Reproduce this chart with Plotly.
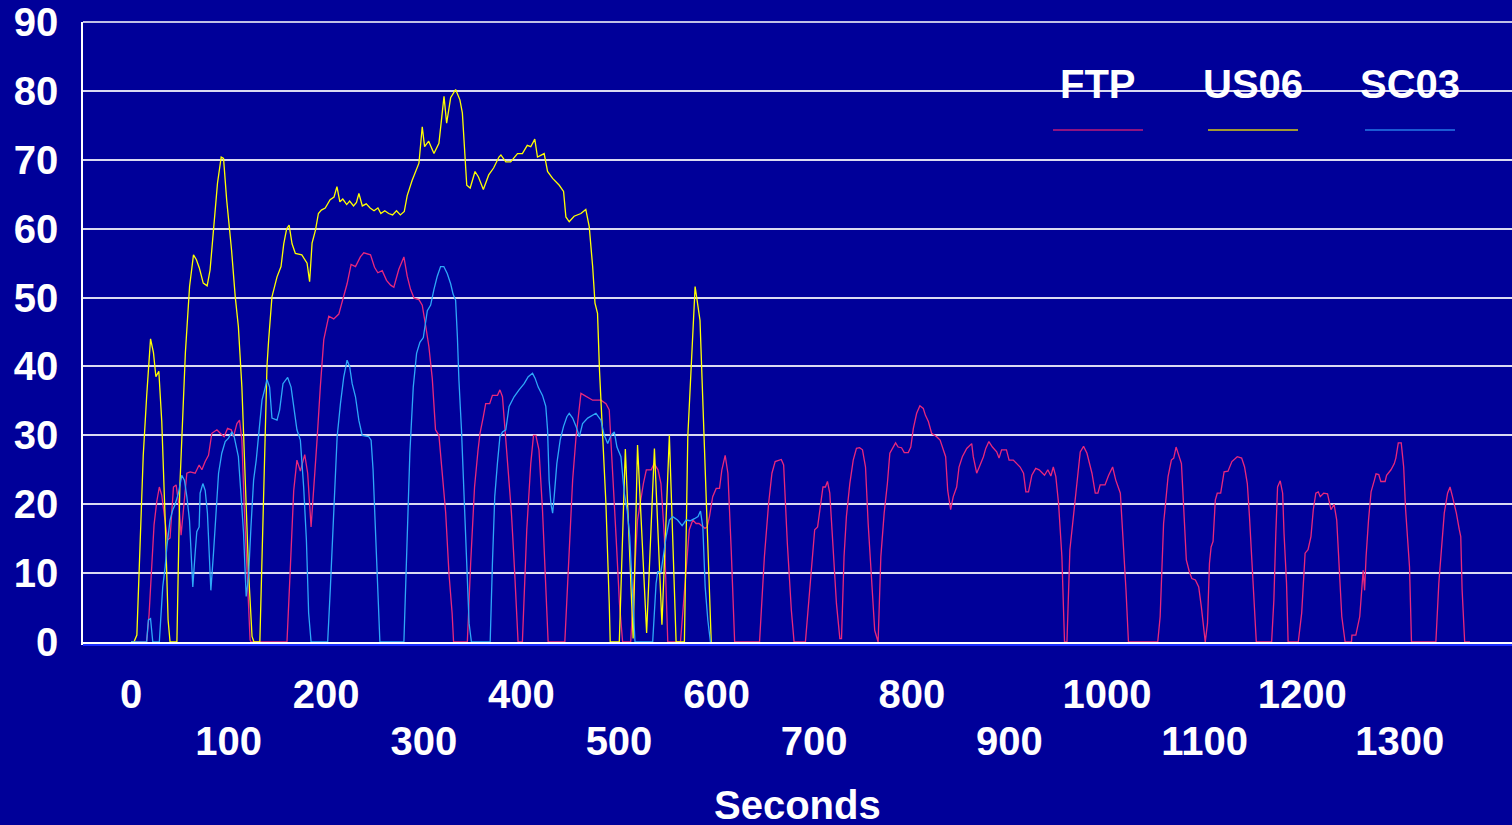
import plotly.graph_objects as go

# ---------------- data (seconds, speed) ----------------
ftp_t = [0, 16, 18.5, 21, 23.6, 26.4, 29, 31.5, 34.9, 37.4, 40, 43.5, 46.2, 49.3, 51.3, 53.7, 57.2, 60.6, 65.7, 69.8,
         72.6, 76, 79.4, 82.8, 88, 91.4, 95.4, 98.9, 102.7, 105, 108.5, 111.2, 113.6, 116, 118.8, 122, 123,
         159.8, 163, 166.7, 170, 173.5, 178, 181, 184.5, 187, 190.6, 194, 197.5, 202.6, 207.7, 212.9, 216.3, 221.4,
         225.5, 230, 235, 238.5, 245.4, 249.5, 252.9, 257.4, 261.8, 266, 269.3, 274.4, 279.6, 283, 286.4, 290, 295,
         298.4, 301.8, 305.2, 308.7, 312, 315.5, 319, 322.4, 325.8, 329, 330.5,
         344.6, 348, 352, 355.6, 357.6, 361, 363.4, 367.5, 370.3, 375.5, 378, 380.6, 382.3, 385.7, 389.8, 393, 396.6,
         401, 405.5, 409.6, 412.4, 414.8, 418, 421.6, 425, 427.4,
         444.5, 449, 452.5, 456, 458.3, 461, 464.5, 469, 473, 481.5, 486.7, 490, 493.5, 497, 500.5, 503.7,
         512, 515, 519, 525, 528, 533, 536, 540, 543, 546.5, 550,
         563, 568.8, 572, 575.6, 579, 582, 588, 590.3, 592.7, 596, 599.6, 603, 605.4, 608.8, 611.6, 615, 618.5,
         644, 649, 653.3, 656.7, 660, 666.3, 668.7, 672.5, 676.6, 679.4,
         691, 697, 700.5, 703.5, 706.4, 709, 711.5, 713.6, 716, 719.3, 722.8, 726.3, 728, 730.6, 733, 736.5, 740,
         743.3, 746.5, 749.5, 752.6, 755.3, 758.7, 762, 765.5, 768.3, 771.7, 775, 777.5, 781, 783.4, 786, 789.5,
         792.3, 796.4, 799, 801.6, 805, 808.3, 811.8, 814, 817, 820.3, 825.5, 829, 832.3, 834.7, 836.8, 839.8,
         842.5, 846, 848.4, 851.8, 856.3, 861.4, 863, 866.5, 870, 873.4, 875.8, 879, 882.6, 887, 889.4, 892, 897,
         899.7, 904, 907.6, 911, 914.5, 916.9, 919.6, 923, 927, 930.5, 934, 936, 939.4, 942.5, 945, 947.6, 950.4,
         953.8, 956.5, 959, 962, 965.8, 969.2, 972.6, 976, 979.5, 984.6, 988, 990.7, 993, 998, 1001.7, 1005.8,
         1009, 1013.7, 1017, 1019.5, 1022,
         1052, 1054.5, 1056.5, 1058, 1060, 1062.6, 1066, 1068.4, 1070.8, 1073.6, 1076.3, 1077.7, 1079.7, 1081.3,
         1084.4, 1087, 1090.6, 1094, 1096.7, 1099, 1100.7, 1103, 1105, 1106.7, 1108.7, 1111, 1113, 1116.5, 1120,
         1124, 1128, 1133.5, 1138, 1141, 1143.8, 1146, 1148.9, 1153,
         1168.7, 1171, 1173, 1174.8, 1177.5, 1180, 1181.4, 1184, 1185.6,
         1196, 1199.5, 1203, 1206, 1209, 1211.4, 1214, 1216.5, 1218.5, 1222, 1226, 1229.5, 1232.7, 1235.4, 1237.8,
         1240.6, 1244, 1250.5, 1251, 1255, 1259, 1262.5, 1264, 1265.5, 1268, 1270.6, 1274, 1275.7, 1278.5, 1280.6,
         1285, 1286.5, 1291, 1294.4, 1296, 1298.5, 1301.5, 1304, 1306, 1310, 1312,
         1337, 1340, 1343, 1345.6, 1349, 1351.5, 1354, 1358, 1361, 1362.5, 1363.9, 1366.5, 1372]
ftp_v = [0, 0, 4, 10.4, 17, 20.4, 22.5, 21.3, 17.2, 14.8, 15.1, 22.5, 22.8, 19.6, 15.5, 19.6, 24.5, 24.7, 24.5, 25.7,
         25.0, 26.2, 27.1, 30.3, 30.8, 30.3, 29.8, 31, 30.8, 29.8, 31.7, 32.2, 29.3, 19.6, 10, 0.3, 0,
         0, 10, 22, 26.4, 24.8, 27.2, 24.5, 16.7, 21.4, 29.3, 37.1, 43.9, 47.3, 46.9, 47.6, 49.4, 52,
         54.8, 54.5, 55.9, 56.5, 56.2, 54.4, 53.6, 53.9, 52.5, 51.8, 51.5, 54.1, 55.9, 53.1, 51.2, 49.9, 49.7,
         48.9, 46, 42.9, 38.2, 30.8, 30, 24, 18.8, 9.9, 4.2, 0,
         0, 11.4, 22.5, 27.9, 30.3, 32.7, 34.6, 34.6, 35.8, 35.8, 36.6, 35.6, 32.7, 25.9, 18.7, 10.4, 0,
         0, 16.3, 25.9, 30, 30, 27.9, 19.2, 9, 0,
         0, 13.8, 23.5, 29.8, 33.2, 36.1, 35.8, 35.4, 35.1, 35.1, 34.6, 33.7, 25, 15.3, 5.6, 0,
         0, 8, 17.7, 23, 25, 25, 25.9, 25, 23, 15.3, 0,
         0, 10.4, 16.3, 17.7, 17.2, 17.2, 16.5, 16.7, 18.2, 21.1, 22.3, 22.3, 25, 27.1, 24.5, 13.3, 0,
         0, 12.4, 20.1, 24.5, 26.2, 26.5, 25.7, 14.3, 4.6, 0,
         0, 10.9, 16.3, 16.7, 19.6, 22.5, 22.5, 23.3, 21.6, 13.4, 5.6, 0.5, 0.5, 12.4, 18.2, 23, 26.4,
         28.1, 28.2, 27.9, 25.4, 17.2, 9.5, 1.7, 0, 12.4, 18.7, 23, 27.4, 28.3, 28.9, 28.3, 28.2,
         27.5, 27.5, 28.3, 31, 33.2, 34.3, 33.9, 32.9, 32, 30.3, 29.8, 29.3, 27.9, 26.9, 22, 19.2,
         21.1, 22.5, 25.4, 26.9, 28.1, 28.8, 26.9, 24.5, 25.7, 26.9, 28.1, 29.1, 28.3, 27.6, 26.7, 27.9, 27.9,
         26.4, 26.4, 25.9, 25.4, 24.5, 21.8, 21.8, 24.2, 25.2, 25, 24.5, 24.2, 25, 24.1, 25.4, 24, 20.1,
         12.4, 0, 0, 13.4, 18.2, 23, 27.6, 28.4, 27.4, 24.5, 21.6, 21.6, 22.8, 22.8, 24.2, 25.4,
         23.5, 21.6, 14.3, 7.5, 0,
         0, 3.7, 10.9, 17.2, 20.1, 24, 26.4, 26.7, 28.3, 27.1, 25.9, 22, 17.2, 11.9,
         10.2, 9.2, 9, 8, 5.1, 2.2, 0, 2.7, 11.4, 13.8, 14.6, 20.6, 21.6, 21.6, 24.7,
         24.8, 26.2, 26.9, 26.7, 25.4, 23, 18.2, 10.9, 0,
         0, 6.1, 15.8, 22.5, 23.4, 21.6, 15.8, 8.5, 0,
         0, 4.2, 12.9, 13.4, 15.3, 19.2, 21.6, 21.8, 21.1, 21.6, 21.5, 19.2, 20, 17.7, 10.4,
         3.7, 0, 0, 1, 1, 3.7, 10.4, 7.5, 12.4, 17.7, 21.8, 23.5, 24.4, 24.3, 23.3,
         23.3, 24.2, 25, 25.9, 26.7, 28.9, 28.9, 25.4, 19.2, 10.9, 0,
         0, 8.5, 14.3, 18.7, 21.6, 22.5, 21.1, 18.7, 16.3, 15.3, 7.5, 0, 0]

us06_t = [0, 3, 6, 9, 12.5, 16, 20, 23, 25.5, 28.5, 31.5, 35, 38, 40, 47, 50, 53, 55.7, 60, 64, 67, 70, 74, 78, 81,
          84.5, 88.6, 92.4, 94.8, 98, 103, 106.8, 110, 113.6, 117, 120.5, 124, 126, 132, 136, 139.3, 141, 144.4,
          149.6, 153.7, 156.5, 159.5, 162, 165, 168.4, 175, 180.4, 183, 185.5, 189, 192, 195, 199, 204, 208, 211,
          214, 217, 221, 224, 228, 231, 233.5, 237, 241, 245, 249, 253, 256, 260, 264, 268, 272, 276, 280, 283,
          288, 295, 298.4, 300.8, 305, 310.4, 315.5, 320.7, 323.4, 327.5, 332.6, 337, 339.5, 341, 344, 347.5,
          352.5, 356, 361, 366.5, 371.5, 377, 379, 384, 389, 396, 401, 406, 409.6, 413.7, 416.5, 423.3, 426.8,
          432, 438.8, 443.2, 445.6, 449, 454, 461, 466, 469.5, 473, 475.4, 478, 480, 483.2, 486.6, 490, 491,
          500.3, 506.5, 514.5, 519, 528.3, 536.3, 544, 551.6, 558.5, 567, 570.5, 574, 578, 583, 586, 589.5, 593,
          594.5]
us06_v = [0, 0, 1, 13, 27, 35.6, 44, 42, 38.5, 39.3, 32, 17.7, 3.2, 0, 0, 22.5, 32, 42, 51.6, 56.2, 55.5, 54.3, 52.1,
          51.7, 54, 59.8, 66.6, 70.4, 70.2, 64.2, 56.9, 50.1, 45.8, 37, 24.5, 10, 0.8, 0, 0, 24.5, 40, 43.8, 50.1,
          53, 54.5, 57.8, 60, 60.5, 57.8, 56.4, 56.2, 55, 52.3, 57.9, 59.8, 62.2, 62.7, 63, 64.2, 64.6, 66.1,
          63.9, 64.3, 63.5, 64.0, 63.3, 63.8, 65.1, 63.3, 63.6, 63.0, 62.6, 63.0, 62.2, 62.6, 62.2, 62.0, 62.6,
          62.0, 62.5, 64.8, 67.0, 69.5, 74.8, 71.9, 72.7, 70.9, 72.4, 79.2, 75.3, 79, 80.2, 78.7, 76.8, 72.9,
          66.3, 65.9, 68.3, 67.5, 65.7, 67.8, 68.8, 70.4, 70.7, 69.7, 69.7, 70.9, 70.9, 72.1, 71.9, 73.0, 70.4,
          70.9, 68.3, 67.3, 66.3, 65.4, 61.7, 61.0, 61.8, 62.2, 62.8, 60.3, 54.5, 49.2, 47.7, 39.5, 29.8, 20.1,
          5.6, 0, 0, 28, 0.5, 28.6, 1.3, 28.1, 2.5, 30, 0, 0, 29.8, 39.5, 51.6, 46.7, 34.7, 20.2, 5.6, 0]

sc03_t = [0, 16, 17.8, 20, 22.3, 29, 32.5, 35, 36.7, 40, 42.8, 45, 48.6, 52, 54.7, 57.2, 59.9, 63.3, 65.7, 67.4,
          69.8, 70.8, 73.6, 76, 78.3, 81.8, 84.5, 87.3, 89.7, 93, 96.5, 99.9, 103.4, 105.7, 107.8, 110, 112.6,
          115.3, 118, 120.4, 122.9, 125.6, 128.3, 131.7, 134.2, 137.6, 139.3, 142, 144.4, 149.6, 152.3, 155.7,
          160.5, 164, 166.6, 170, 173.5, 176.9, 179.7, 182, 184.5, 201.5, 204.3, 207.7, 211.2, 214.6, 218, 221.4,
          224, 226.6, 230, 233.4, 236.9, 243.6, 246, 248, 250.5, 252.9, 255, 279.6, 282.3, 285.7, 289.2, 292.6,
          296, 299.5, 303.6, 307, 310.4, 313.8, 317.2, 320.5, 324, 327.5, 330, 332.6, 334.4, 336, 338.6, 341.2,
          344, 346.4, 348.8, 368, 370.3, 372.7, 375.4, 378, 380.6, 384, 387.4, 392.5, 397.6, 402.8, 407, 411.4,
          414, 417.2, 421.6, 425, 426.8, 428.4, 430.2, 432, 433.6, 436.3, 439.7, 443.2, 446.6, 449, 452.5, 456,
          459.4, 462.7, 467.9, 473, 476.4, 481.5, 484.9, 488.4, 491.8, 495.2, 497.9, 502, 505.4, 508.5, 511,
          513.5, 516.4, 534.5, 538, 539.7, 543, 545.9, 548.3, 551.6, 555, 560, 564.7, 568.8, 573, 577.3, 581,
          583.5, 585.9, 588.3, 591, 593.7]
sc03_v = [0, 0, 3.2, 3.4, 0, 0, 8, 10.9, 13.8, 17.7, 19.2, 19.9, 21.6, 24.2, 23.5, 21.1, 17.7, 8, 12.9, 16,
          16.7, 21.6, 23, 22, 18.7, 7.5, 12.9, 18.7, 24.5, 27.4, 29.1, 29.6, 30.5, 29.8, 28.1, 26.9, 21.6,
          15.8, 6.6, 9.5, 16.7, 23.5, 26.4, 31.3, 35.1, 37, 38.1, 37, 32.5, 32.2, 33.7, 37.5,
          38.4, 37, 34.2, 30.8, 29.3, 22.5, 14.8, 4.2, 0, 0, 8, 17.7, 29.8, 34.6, 38.5, 40.9,
          40, 37.5, 35.6, 32.2, 30, 29.8, 29.3, 25, 15.3, 5.6, 0, 0, 12.9, 27.4, 37, 41.9,
          43.5, 44.2, 48.1, 48.9, 51.2, 53.1, 54.5, 54.5, 53.5, 52, 50.5, 49.6, 44.3, 38, 30.8, 21.1,
          9, 2.7, 0, 0, 11.4, 21.1, 25.9, 29.8, 30.5, 30.8, 34.2, 35.6, 36.6, 37.5, 38.5, 39,
          38.3, 37, 35.8, 34.2, 30.8, 23.5, 20.1, 18.7, 21.1, 25.9, 29.3, 31.3, 32.7, 33.2, 32.5, 31.3,
          29.8, 31.7, 32.5, 33, 33.2, 32.2, 30, 28.8, 30, 30.5, 28.3, 26.9, 21.6, 19, 15.3,
          8, 0, 0, 8.5, 10.2, 10.2, 12.9, 15.3, 17.7, 18.2, 17.7, 16.9, 17.7, 17.6, 17.9, 18.2,
          19, 16.7, 8, 3.2, 0]

series_names = ["FTP", "US06", "SC03"]
series_colors = ["#E8287C", "#FFFF00", "#2EA8F8"]
legend_colors = ["#C0187A", "#D8CC10", "#2578E8"]

x_tick_row1 = [0, 200, 400, 600, 800, 1000, 1200]
x_tick_row2 = [100, 300, 500, 700, 900, 1100, 1300]
y_tick_vals = [0, 10, 20, 30, 40, 50, 60, 70, 80, 90]

# ---------------- figure ----------------
BG = "#000099"
FONT = "Liberation Sans, Arial, sans-serif"
X_RANGE = [-49.2, 1415.0]

fig = go.Figure()
for name, tt, vv, col in zip(series_names, [ftp_t, us06_t, sc03_t], [ftp_v, us06_v, sc03_v], series_colors):
    fig.add_trace(go.Scatter(x=tt, y=vv, mode="lines", name=name,
                             line=dict(color=col, width=1.3), showlegend=False))

tick_font = dict(family=FONT, size=40, color="white", weight="bold")
fig.update_layout(
    width=1512, height=825,
    margin=dict(l=83, r=0, t=22, b=183),
    paper_bgcolor=BG, plot_bgcolor=BG,
    font=dict(family=FONT, color="white", size=40, weight="bold"),
    xaxis=dict(range=X_RANGE, showgrid=False, zeroline=False,
               tickmode="array", tickvals=x_tick_row1, ticktext=[str(v) for v in x_tick_row1],
               ticks="", ticklabelstandoff=15, tickfont=tick_font,
               showline=True, linecolor="white", linewidth=2.5),
    xaxis2=dict(range=X_RANGE, overlaying="x", side="bottom", anchor="y", showgrid=False, zeroline=False,
                tickmode="array", tickvals=x_tick_row2, ticktext=[str(v) for v in x_tick_row2],
                ticks="", ticklabelstandoff=72, tickfont=tick_font, showline=False),
    yaxis=dict(range=[0, 90], tickmode="array", tickvals=y_tick_vals,
               showgrid=True, gridcolor="rgba(230,230,245,0.95)", gridwidth=1.5,
               zeroline=False, ticks="", ticklabelstandoff=15, tickfont=tick_font,
               showline=True, linecolor="white", linewidth=1.5),
)
# an invisible helper so the second tick row axis is drawn
fig.add_trace(go.Scatter(x=[X_RANGE[0]], y=[0], xaxis="x2", mode="lines", showlegend=False,
                         hoverinfo="skip", line=dict(width=0, color=BG)))

# top border and blue under-line of the axis
fig.add_shape(type="line", xref="paper", yref="paper", x0=0, x1=1, y0=1, y1=1,
              line=dict(color="white", width=1.5))
fig.add_shape(type="line", xref="paper", yref="paper", ysizemode="pixel", yanchor=0,
              x0=0, x1=1, y0=-3, y1=-3, line=dict(color="#1a2cff", width=2))

# custom legend: name above, short line below
legend_x = [(1053, 1143), (1208, 1298), (1365, 1455)]
for (xa, xb), name, col in zip(legend_x, series_names, legend_colors):
    fx0 = (xa - 83) / 1429
    fx1 = (xb - 83) / 1429
    fig.add_annotation(x=(fx0 + fx1) / 2, y=(642 - 84) / 620, xref="paper", yref="paper",
                       text=name, showarrow=False, xanchor="center", yanchor="middle",
                       font=dict(family=FONT, size=40, color="white", weight="bold"))
    fig.add_shape(type="line", xref="paper", yref="paper", x0=fx0, x1=fx1,
                  y0=(642 - 130) / 620, y1=(642 - 130) / 620, line=dict(color=col, width=1.5))

fig.add_annotation(x=0.5, y=-(805 - 642) / 620, xref="paper", yref="paper", text="Seconds",
                   showarrow=False, xanchor="center", yanchor="middle",
                   font=dict(family=FONT, size=40, color="white", weight="bold"))

fig.write_html("out.html", config={"displayModeBar": False},
               post_script="document.body.style.margin='0';document.body.style.overflow='hidden';")
